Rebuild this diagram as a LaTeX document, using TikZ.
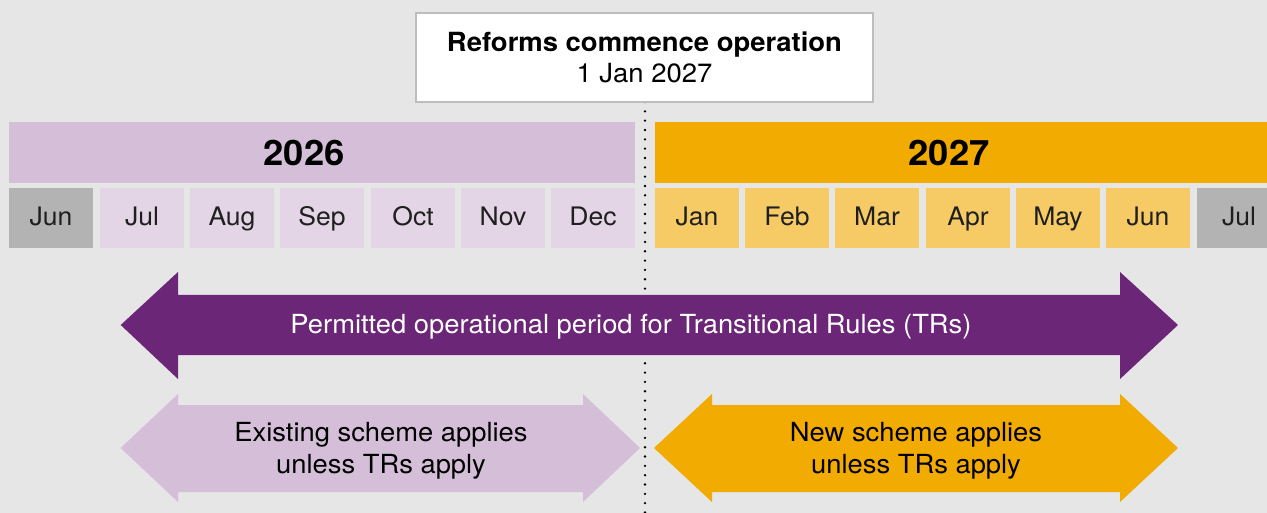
\documentclass[tikz,border=0pt]{standalone}
\usepackage{fontspec}
\setmainfont{TeX Gyre Heros}[FakeStretch=1.04]
\usetikzlibrary{positioning}
\definecolor{bgc}{HTML}{E6E6E6}
\definecolor{lilac}{HTML}{D4BED8}
\definecolor{lilaccell}{HTML}{E3D4E6}
\definecolor{orangebar}{HTML}{F2AB00}
\definecolor{orangecell}{HTML}{F6CB66}
\definecolor{graycell}{HTML}{B3B3B3}
\definecolor{darkpurple}{HTML}{6C2677}
\definecolor{boxborder}{HTML}{BDBDBD}
\tikzset{
  yearbar/.style={rectangle, inner sep=0pt, minimum height=61pt},
  monthcell/.style={rectangle, inner sep=0pt, minimum width=84pt, minimum height=60pt,
    text height=15pt, text depth=0pt,
    font=\fontsize{25.5}{28}\selectfont, text=black!88},
  yeartext/.style={inner sep=0pt, font=\fontsize{35}{40}\selectfont\bfseries},
  arrowtext/.style={inner sep=0pt, align=center, font=\fontsize{26.3}{32}\selectfont},
}
\begin{document}
\begin{tikzpicture}[x=1pt,y=-1pt]
\useasboundingbox[fill=bgc] (0,0) rectangle (1267,513);
% dotted divider
\coordinate (dtop) at (645,102);
\coordinate (dbot) at (645,513);
\draw[line width=2.6pt, line cap=round, dash pattern=on 0pt off 9.33pt] (dtop) -- (dbot);
% top box
\node[draw=boxborder, line width=1.6pt, fill=white, minimum width=457pt, minimum height=89pt,
  inner sep=0pt, align=center, font=\fontsize{26.4}{31}\selectfont] (reform) at (644.5,57.5)
  {\textbf{Reforms commence operation}\\1 Jan 2027};
% year bars
\node[yearbar, fill=lilac, minimum width=626pt] (bar26) at (322,152.5) {};
\node[yearbar, fill=orangebar, minimum width=620pt] (bar27) at (965,152.5) {};
\node[yeartext] (t26) at (304,153) {2026};
\node[yeartext] (t27) at (949,153) {2027};
% month cells
\node[monthcell, fill=graycell] (m1) at (51,218) {Jun};
\node[monthcell, fill=lilaccell] (m2) at (142,218) {Jul};
\node[monthcell, fill=lilaccell] (m3) at (232,218) {Aug};
\node[monthcell, fill=lilaccell] (m4) at (322,218) {Sep};
\node[monthcell, fill=lilaccell] (m5) at (413,218) {Oct};
\node[monthcell, fill=lilaccell] (m6) at (503,218) {Nov};
\node[monthcell, fill=lilaccell] (m7) at (593,218) {Dec};
\node[monthcell, fill=orangecell] (m8) at (697,218) {Jan};
\node[monthcell, fill=orangecell] (m9) at (787,218) {Feb};
\node[monthcell, fill=orangecell] (m10) at (877,218) {Mar};
\node[monthcell, fill=orangecell] (m11) at (968,218) {Apr};
\node[monthcell, fill=orangecell] (m12) at (1058,218) {May};
\node[monthcell, fill=orangecell] (m13) at (1148,218) {Jun};
\node[monthcell, fill=graycell] (m14) at (1239,218) {Jul};
% purple double arrow
\fill[darkpurple] (120.7,325) -- (178,272) -- (178,295) -- (1120,295) -- (1120,272) -- (1178,325)
  -- (1120,379) -- (1120,355) -- (178,355) -- (178,379) -- cycle;
\node[arrowtext, text=white] (permit) at (631,327) {Permitted operational period for Transitional Rules (TRs)};
% lilac double arrow
\fill[lilac] (120.7,448) -- (178,394) -- (178,405) -- (583,405) -- (583,394) -- (640,448)
  -- (583,502) -- (583,492) -- (178,492) -- (178,502) -- cycle;
\node[arrowtext] (exist) at (381,451) {Existing scheme applies\\unless TRs apply};
% orange double arrow
\fill[orangebar] (654,448) -- (712,394) -- (712,405) -- (1120,405) -- (1120,394) -- (1178,448)
  -- (1120,502) -- (1120,492) -- (712,492) -- (712,502) -- cycle;
\node[arrowtext] (newsch) at (916,451) {New scheme applies\\unless TRs apply};
\end{tikzpicture}
\end{document}
